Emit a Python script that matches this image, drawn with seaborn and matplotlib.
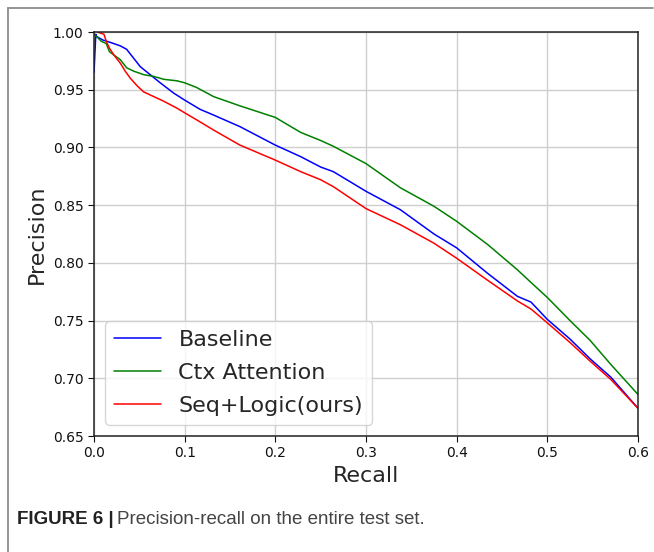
import numpy as np
import pandas as pd
import matplotlib
matplotlib.use("Agg")
import matplotlib.pyplot as plt
import seaborn as sns
from matplotlib.lines import Line2D

# ---- data ----
base_recall = [0.0, 0.002, 0.003, 0.010, 0.018, 0.029, 0.036, 0.044, 0.051, 0.062,
               0.073, 0.088, 0.100, 0.117, 0.132, 0.161, 0.200, 0.228, 0.250, 0.264,
               0.300, 0.338, 0.375, 0.400, 0.434, 0.467, 0.482, 0.500, 0.525, 0.547,
               0.570, 0.600]
base_prec = [0.965, 0.998, 0.996, 0.993, 0.991, 0.988, 0.985, 0.977, 0.970, 0.963,
             0.956, 0.947, 0.941, 0.933, 0.928, 0.918, 0.902, 0.892, 0.883, 0.879,
             0.862, 0.846, 0.825, 0.813, 0.791, 0.771, 0.766, 0.751, 0.734, 0.717,
             0.701, 0.674]

ctx_recall = [0.0, 0.003, 0.008, 0.0135, 0.017, 0.022, 0.029, 0.036, 0.044, 0.055,
              0.066, 0.077, 0.0915, 0.100, 0.113, 0.132, 0.161, 0.200, 0.228, 0.250,
              0.264, 0.300, 0.338, 0.375, 0.400, 0.434, 0.467, 0.482, 0.500, 0.525,
              0.547, 0.570, 0.600]
ctx_prec = [0.998, 0.996, 0.992, 0.990, 0.983, 0.980, 0.976, 0.969, 0.966, 0.963,
            0.9615, 0.959, 0.9577, 0.956, 0.952, 0.944, 0.936, 0.926, 0.913, 0.906,
            0.901, 0.886, 0.865, 0.849, 0.836, 0.816, 0.794, 0.783, 0.770, 0.750,
            0.733, 0.712, 0.686]

ours_recall = [0.004, 0.011, 0.0135, 0.017, 0.022, 0.029, 0.0345, 0.040, 0.048, 0.055,
               0.066, 0.077, 0.0915, 0.100, 0.113, 0.132, 0.161, 0.200, 0.228, 0.250,
               0.264, 0.300, 0.338, 0.375, 0.400, 0.434, 0.467, 0.482, 0.500, 0.525,
               0.547, 0.570, 0.600]
ours_prec = [1.000, 0.998, 0.992, 0.986, 0.980, 0.973, 0.966, 0.960, 0.953, 0.948,
             0.944, 0.940, 0.934, 0.930, 0.924, 0.915, 0.902, 0.889, 0.879, 0.872,
             0.866, 0.847, 0.833, 0.817, 0.804, 0.785, 0.767, 0.760, 0.748, 0.731,
             0.715, 0.699, 0.674]

labels = ["Baseline", "Ctx Attention", "Seq+Logic(ours)"]
colors = {"Baseline": "blue", "Ctx Attention": "green", "Seq+Logic(ours)": "red"}

df = pd.concat([
    pd.DataFrame({"Recall": base_recall, "Precision": base_prec, "model": labels[0]}),
    pd.DataFrame({"Recall": ctx_recall, "Precision": ctx_prec, "model": labels[1]}),
    pd.DataFrame({"Recall": ours_recall, "Precision": ours_prec, "model": labels[2]}),
], ignore_index=True)

sns.set_style("ticks")
plt.rcParams["font.family"] = ["DejaVu Sans"]

fig = plt.figure(figsize=(6.54, 5.52), dpi=100)
ax = fig.add_axes([94 / 654, 1 - 436 / 552, 544 / 654, 404 / 552])

sns.lineplot(data=df, x="Recall", y="Precision", hue="model", palette=colors,
             hue_order=labels, sort=False, estimator=None, linewidth=1.1, ax=ax)

ax.set_xlim(0, 0.6)
ax.set_ylim(0.65, 1.0)
ax.set_xticks(np.arange(0, 0.61, 0.1))
ax.set_yticks(np.arange(0.65, 1.001, 0.05))
ax.set_xticklabels([f"{v:.1f}" for v in np.arange(0, 0.61, 0.1)])
ax.set_yticklabels([f"{v:.2f}" for v in np.arange(0.65, 1.001, 0.05)])
ax.tick_params(labelsize=10, colors="#111111", length=4)
ax.grid(True, color="#cfcfcf", linewidth=1.0)
ax.set_axisbelow(True)
for s in ax.spines.values():
    s.set_color("#222222")
    s.set_linewidth(1.1)

ax.set_xlabel("Recall", fontsize=16, labelpad=4)
ax.set_ylabel("Precision", fontsize=16, labelpad=4)

leg = ax.legend(loc="lower left", fontsize=16, labelspacing=0.58, title=None,
                handlelength=2.1)

# page frame lines (top and left)
fig.add_artist(Line2D([7.5 / 654, 653 / 654], [1 - 7.5 / 552, 1 - 7.5 / 552],
                      transform=fig.transFigure, color="#8c8c8c", linewidth=1.3))
fig.add_artist(Line2D([7.5 / 654, 7.5 / 654], [1 - 7.5 / 552, 0],
                      transform=fig.transFigure, color="#8c8c8c", linewidth=1.3))

# caption
cap_font = ["Liberation Sans Narrow", "Liberation Sans", "DejaVu Sans"]
t1 = fig.text(17 / 654, 1 - 519 / 552, "FIGURE 6 |", fontsize=13.5, fontweight="bold",
              color="#222222", va="center", ha="left", family=cap_font)
fig.canvas.draw()
bb = t1.get_window_extent(fig.canvas.get_renderer())
fig.text(bb.x1 / 654 + 3 / 654, 1 - 519 / 552, "Precision-recall on the entire test set.",
         fontsize=13.5, color="#444444", va="center", ha="left", family=cap_font)

fig.savefig("out.png", dpi=100)
